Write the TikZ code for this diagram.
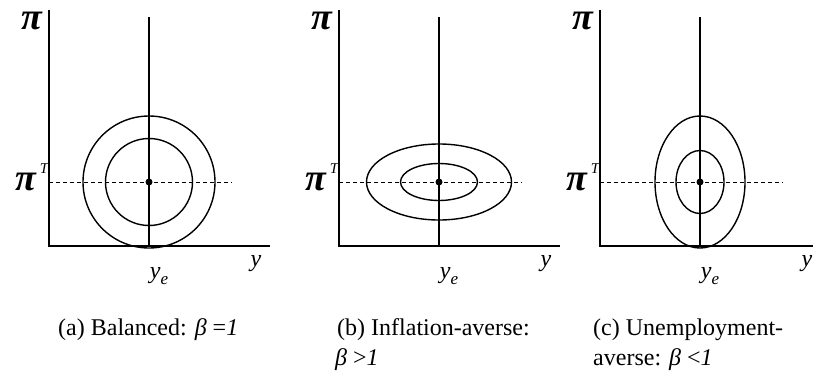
\documentclass[tikz,border=0pt]{standalone}
\usepackage{fontspec}
\setmainfont{Liberation Serif}
\begin{document}
\begin{tikzpicture}[x=1pt,y=-1pt,
  axis/.style={line width=1.1pt},
  curve/.style={line width=1.4pt},
  refline/.style={line width=1pt, dash pattern=on 4pt off 3pt},
  pilbl/.style={inner sep=0, anchor=base, font=\fontsize{38}{38}\selectfont\bfseries\itshape},
  suplbl/.style={inner sep=0, anchor=base, font=\fontsize{15}{15}\selectfont\itshape},
  vlbl/.style={inner sep=0, font=\fontsize{24}{24}\selectfont\itshape},
  captxt/.style={inner sep=0, anchor=base west, font=\fontsize{24}{29}\selectfont},
  dotpt/.style={fill=black}]
\useasboundingbox (0,0) rectangle (813,372);
\newcommand{\yesub}{\textit{y}\raisebox{-6pt}{\fontsize{17}{17}\selectfont\itshape e}}
% ---------- panel a ----------
\begin{scope}[shift={(49,0)}]
  \coordinate (aTop) at (0,10); \coordinate (aOrg) at (0,246); \coordinate (aXend) at (221,246);
  \coordinate (aVtop) at (100,17); \coordinate (aVbot) at (100,246);
  \coordinate (aD0) at (0,182); \coordinate (aD1) at (183,182);
  \coordinate (aE) at (100,182);
  \draw[axis] (aTop) -- (aOrg) -- (aXend);
  \draw[axis] (aVtop) -- (aVbot);
  \draw[refline] (aD0) -- (aD1);
  \draw[curve] (aE) circle[radius=66pt];
  \draw[curve] (aE) circle[radius=43.5pt];
  \fill[dotpt] (aE) circle[radius=3.5pt];
  \node[pilbl] (api) at (-17,29) {π};
  \node[pilbl] (apiT) at (-23,190) {π};
  \node[suplbl] (aT) at (-5,173) {T};
  \node[vlbl] (aye) at (110,276) {\yesub};
  \node[vlbl] (ay) at (207,264) {y};
  \node[captxt] (acap) at (9,335) {(a) Balanced: \textit{β} =\textit{1}};
\end{scope}
% ---------- panel b ----------
\begin{scope}[shift={(339,0)}]
  \coordinate (bTop) at (0,10); \coordinate (bOrg) at (0,246); \coordinate (bXend) at (221,246);
  \coordinate (bVtop) at (100,17); \coordinate (bVbot) at (100,246);
  \coordinate (bD0) at (0,182); \coordinate (bD1) at (183,182);
  \coordinate (bE) at (100,182);
  \draw[axis] (bTop) -- (bOrg) -- (bXend);
  \draw[axis] (bVtop) -- (bVbot);
  \draw[refline] (bD0) -- (bD1);
  \draw[curve] (bE) ellipse[x radius=72.5pt, y radius=38pt];
  \draw[curve] (bE) ellipse[x radius=38.5pt, y radius=18.5pt];
  \fill[dotpt] (bE) circle[radius=3.5pt];
  \node[pilbl] (bpi) at (-17,29) {π};
  \node[pilbl] (bpiT) at (-23,190) {π};
  \node[suplbl] (bT) at (-5,173) {T};
  \node[vlbl] (bye) at (110,276) {\yesub};
  \node[vlbl] (by) at (207,264) {y};
  \node[captxt] (bcap1) at (-2,335) {(b) Inflation-averse:};
  \node[captxt] (bcap2) at (-4,365) {\textit{β} >\textit{1}};
\end{scope}
% ---------- panel c ----------
\begin{scope}[shift={(600,0)}]
  \coordinate (cTop) at (0,10); \coordinate (cOrg) at (0,246); \coordinate (cXend) at (221,246);
  \coordinate (cVtop) at (100,17); \coordinate (cVbot) at (100,246);
  \coordinate (cD0) at (0,182); \coordinate (cD1) at (183,182);
  \coordinate (cE) at (100,182);
  \draw[axis] (cTop) -- (cOrg) -- (cXend);
  \draw[axis] (cVtop) -- (cVbot);
  \draw[refline] (cD0) -- (cD1);
  \draw[curve] (cE) ellipse[x radius=45pt, y radius=66pt];
  \draw[curve] (cE) ellipse[x radius=24pt, y radius=31.5pt];
  \fill[dotpt] (cE) circle[radius=3.5pt];
  \node[pilbl] (cpi) at (-17,29) {π};
  \node[pilbl] (cpiT) at (-23,190) {π};
  \node[suplbl] (cT) at (-5,173) {T};
  \node[vlbl] (cye) at (110,276) {\yesub};
  \node[vlbl] (cy) at (207,264) {y};
  \node[captxt] (ccap1) at (-7,335) {(c) Unemployment-};
  \node[captxt] (ccap2) at (-7,365) {averse: \textit{β} <\textit{1}};
\end{scope}
\end{tikzpicture}
\end{document}
